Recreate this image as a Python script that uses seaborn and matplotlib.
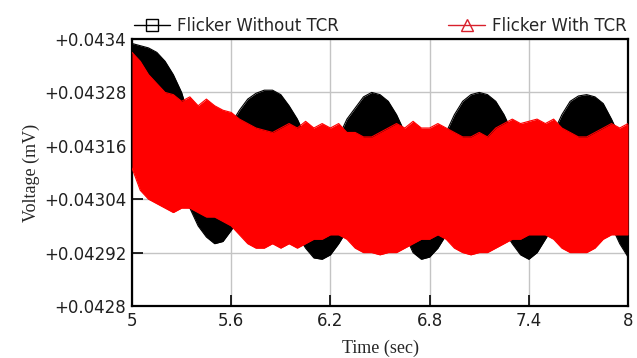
import numpy as np
import pandas as pd
import matplotlib
matplotlib.use("Agg")
import matplotlib.pyplot as plt
import seaborn as sns
from matplotlib.lines import Line2D

# time axis (sec), one sample every 0.05 s
time = np.round(np.arange(5.0, 8.0001, 0.05), 2)

# envelope of the signal without TCR (black)
black_top = [0.04339, 0.043385, 0.04338, 0.04337, 0.04335, 0.04332, 0.04328, 0.04322, 0.04318, 0.04316,
             0.04316, 0.04318, 0.04321, 0.04324, 0.043265, 0.043278, 0.043285, 0.043285, 0.043275, 0.04325,
             0.04322, 0.04318, 0.04315, 0.04313, 0.04314, 0.04318, 0.04322, 0.043245, 0.04327, 0.04328,
             0.043275, 0.04326, 0.04323, 0.04319, 0.04315, 0.04313, 0.04313, 0.04315, 0.04319, 0.04323,
             0.04326, 0.043275, 0.04328, 0.043275, 0.04326, 0.04323, 0.04319, 0.04315, 0.04313, 0.04313,
             0.04315, 0.04319, 0.04323, 0.04326, 0.043272, 0.043275, 0.04327, 0.043255, 0.04322, 0.04318,
             0.04315]
black_bot = [0.04312, 0.04310, 0.04307, 0.04305, 0.04304, 0.04303, 0.04303, 0.04302, 0.04298, 0.042955,
             0.04294, 0.042945, 0.04297, 0.04300, 0.04302, 0.04305, 0.04306, 0.04305, 0.04302, 0.04299,
             0.04296, 0.04293, 0.042908, 0.042905, 0.042915, 0.04294, 0.04297, 0.04300, 0.04303, 0.04305,
             0.04305, 0.04302, 0.04299, 0.04296, 0.04292, 0.042905, 0.04291, 0.04293, 0.04296, 0.04299,
             0.04302, 0.04305, 0.04306, 0.04304, 0.04300, 0.04297, 0.04294, 0.042915, 0.042905, 0.04292,
             0.04295, 0.04298, 0.04301, 0.04304, 0.04306, 0.04306, 0.04304, 0.04301, 0.04298, 0.04294,
             0.04291]

# envelope of the signal with TCR (red)
red_top = [0.04337, 0.04335, 0.04332, 0.04330, 0.04328, 0.043275, 0.04326, 0.04327, 0.04325, 0.043265,
           0.04325, 0.04324, 0.043235, 0.04322, 0.04321, 0.04320, 0.043195, 0.04319, 0.04320, 0.04321,
           0.04320, 0.043215, 0.04320, 0.04321, 0.04320, 0.04321, 0.04319, 0.04319, 0.04318, 0.04318,
           0.04319, 0.04320, 0.04321, 0.04320, 0.043215, 0.04320, 0.04320, 0.04321, 0.04320, 0.04319,
           0.04318, 0.04318, 0.04319, 0.04318, 0.04320, 0.04321, 0.04322, 0.04321, 0.043215, 0.04322,
           0.04321, 0.04322, 0.04320, 0.04319, 0.04318, 0.04318, 0.04319, 0.04320, 0.04321, 0.04320,
           0.04321]
red_bot = [0.04311, 0.04306, 0.04304, 0.04303, 0.04302, 0.04301, 0.04302, 0.04302, 0.04301, 0.04300,
           0.04300, 0.04299, 0.04298, 0.04296, 0.04294, 0.04293, 0.04293, 0.04294, 0.04293, 0.04294,
           0.04293, 0.04294, 0.04295, 0.04295, 0.04296, 0.04296, 0.04295, 0.04293, 0.04292, 0.04292,
           0.042915, 0.04292, 0.04292, 0.04293, 0.04294, 0.04295, 0.04295, 0.04296, 0.04295, 0.04293,
           0.04292, 0.042915, 0.04292, 0.04292, 0.04293, 0.04294, 0.04295, 0.04295, 0.04296, 0.04296,
           0.04296, 0.04295, 0.04293, 0.04292, 0.04292, 0.04292, 0.04293, 0.04295, 0.04296, 0.04296,
           0.04296]

xticks = [5, 5.6, 6.2, 6.8, 7.4, 8]
xtick_labels = ["5", "5.6", "6.2", "6.8", "7.4", "8"]
yticks = [0.0428, 0.04292, 0.04304, 0.04316, 0.04328, 0.0434]
ytick_labels = ["+0.0428", "+0.04292", "+0.04304", "+0.04316", "+0.04328", "+0.0434"]

df = pd.DataFrame({"time": time, "black_top": black_top, "black_bot": black_bot,
                   "red_top": red_top, "red_bot": red_bot})

sns.set_style("white")
plt.rcParams["font.family"] = ["DejaVu Sans"]

fig = plt.figure(figsize=(6.37, 3.58), dpi=100)
ax = fig.add_axes([0.2072, 0.1453, 0.7787, 0.7457])

# black band first, red drawn over it
ax.fill_between(df["time"], df["black_bot"], df["black_top"], color="black", lw=0, zorder=2)
sns.lineplot(data=df, x="time", y="black_top", color="black", lw=0.8, ax=ax, zorder=2)
sns.lineplot(data=df, x="time", y="black_bot", color="black", lw=0.8, ax=ax, zorder=2)
ax.fill_between(df["time"], df["red_bot"], df["red_top"], color="#ff0000", lw=0, zorder=3)
sns.lineplot(data=df, x="time", y="red_top", color="#ff0000", lw=0.8, ax=ax, zorder=3)
sns.lineplot(data=df, x="time", y="red_bot", color="#ff0000", lw=0.8, ax=ax, zorder=3)

ax.set_xlim(5, 8)
ax.set_ylim(0.0428, 0.0434)
ax.set_xticks(xticks)
ax.set_xticklabels(xtick_labels, fontsize=12, color="#202020")
ax.set_yticks(yticks)
ax.set_yticklabels(ytick_labels, fontsize=12, color="#202020")
ax.tick_params(direction="in", length=8, width=1.2, color="black", pad=4,
               left=True, bottom=True, top=False, right=False)
ax.grid(True, color="#c4c4c4", lw=1)
ax.set_axisbelow(True)
for s in ax.spines.values():
    s.set_color("black")
    s.set_linewidth(1.6)

ax.set_xlabel("Time (sec)", family="Liberation Serif", fontsize=13, labelpad=7)
ax.set_ylabel("Voltage (mV)", family="Liberation Serif", fontsize=13, labelpad=3)

h1 = Line2D([], [], color="black", lw=1, marker="s", markersize=8, markerfacecolor="none",
            markeredgecolor="black")
h2 = Line2D([], [], color="#d8202c", lw=1, marker="^", markersize=9, markerfacecolor="none",
            markeredgecolor="#d8202c")
leg1 = ax.legend([h1], ["Flicker Without TCR"], loc="lower left", bbox_to_anchor=(0.0, 1.008),
                 frameon=False, fontsize=12, handlelength=2.2, handletextpad=0.4, borderaxespad=0,
                 borderpad=0.1)
ax.add_artist(leg1)
ax.legend([h2], ["Flicker With TCR"], loc="lower right", bbox_to_anchor=(1.0, 1.008),
          frameon=False, fontsize=12, handlelength=2.2, handletextpad=0.4, borderaxespad=0,
          borderpad=0.1)

fig.savefig("out.png", dpi=100)
